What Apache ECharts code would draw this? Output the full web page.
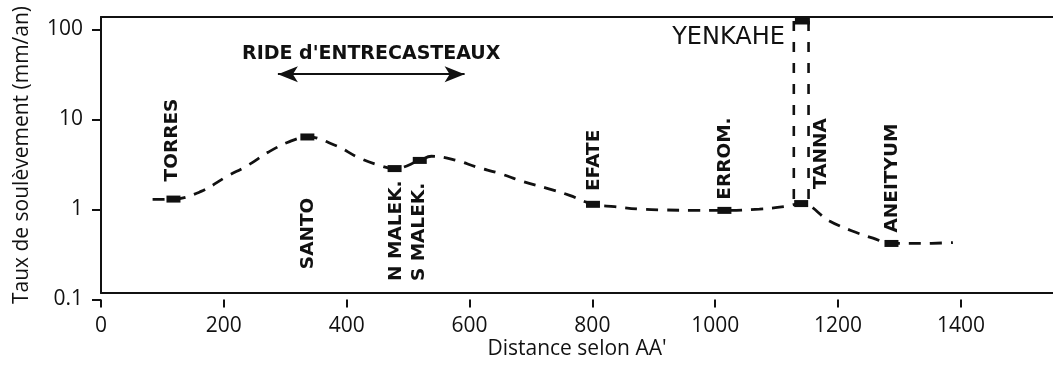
<!DOCTYPE html>
<html><head><meta charset="utf-8">
<script src="https://cdn.jsdelivr.net/npm/echarts@6/dist/echarts.min.js"></script>
<style>html,body{margin:0;padding:0;background:#fff}#c{width:1053px;height:365px}</style>
</head><body><div id="c"></div>
<script>
// ---- data ----
const curveDistance = [84,118,163,204,239,272,307,336,383,418,448,478,519,538,579,611,649,687,725,763,801,836,877,918,967,1015,1072,1113,1140,1186,1222,1257,1287,1336,1387];
const curveRate = [1.16,1.17,1.43,2.10,2.83,3.98,5.27,5.95,4.72,3.50,2.91,2.60,3.22,3.59,3.22,2.71,2.29,1.85,1.56,1.29,1.02,0.96,0.90,0.88,0.87,0.87,0.90,0.96,1.04,0.66,0.51,0.42,0.366,0.366,0.375];
const siteNames = ['TORRES','SANTO','N MALEK.','S MALEK.','EFATE','ERROM.','TANNA','ANEITYUM'];
const siteDistance = [118,336,478,519,801,1015,1140,1287];
const siteRate = [1.17,5.95,2.60,3.22,1.02,0.87,1.04,0.366];
const yenkaheName = 'YENKAHE';
const yenkaheDistance = 1142;
const yenkaheRate = 124;
const yenkaheBoxDistance = [1128,1152];
const ridgeName = "RIDE d'ENTRECASTEAUX";
const ridgeDistance = [288,592];
const ridgeRate = 30.8;
const xTickValues = [0,200,400,600,800,1000,1200,1400];
const yTickValues = [0.1,1,10,100];
const xName = "Distance selon AA'";
const yName = 'Taux de soulèvement (mm/an)';

// ---- label placement (pixel offsets from marker centre, alignment) ----
const labelPlacement = [
  [-1,-17.7,'left'],[1.3,60.7,'right'],[1.7,112.3,'left'],[-0.7,120.7,'left'],
  [1.7,-13.3,'left'],[1,-10.7,'left'],[20,-14.6,'left'],[1,-11,'left']
];

const INK = '#111111';
const SANS = "'Open Sans', sans-serif";
const BOLD = "'DejaVu Sans', sans-serif";
const MW = 14, MH = 7;

const chart = echarts.init(document.getElementById('c'), null, {renderer:'canvas'});

const curveData = curveDistance.map((d,i)=>[d,curveRate[i]]);
const tannaRate = siteRate[siteNames.indexOf('TANNA')];
const siteData = siteDistance.map((d,i)=>({
  value:[d,siteRate[i]], name:siteNames[i],
  label:{ position:[MW/2+labelPlacement[i][0], MH/2+labelPlacement[i][1]], align:labelPlacement[i][2] }
}));

const lineAx = {show:true,onZero:false,lineStyle:{color:INK,width:2}};

const option = {
  animation:false,
  backgroundColor:'#fff',
  grid:[
    {left:101,right:0,top:17,bottom:65.5},
    {left:101,right:92.1,top:29.5,bottom:65.5}
  ],
  xAxis:[
    {gridIndex:0,type:'value',min:0,max:1550,position:'bottom',axisLine:lineAx,axisTick:{show:false},axisLabel:{show:false},splitLine:{show:false},
     name:xName,nameLocation:'middle',nameGap:46,nameTextStyle:{fontFamily:SANS,fontSize:21,color:INK}},
    {gridIndex:0,type:'value',min:0,max:1550,position:'top',axisLine:lineAx,axisTick:{show:false},axisLabel:{show:false},splitLine:{show:false}},
    {gridIndex:1,type:'value',min:xTickValues[0],max:xTickValues[xTickValues.length-1],interval:xTickValues[1]-xTickValues[0],position:'bottom',axisLine:{show:false,onZero:false},
     axisTick:{show:true,length:8,lineStyle:{color:INK,width:2}},
     axisLabel:{margin:16,fontFamily:SANS,fontSize:21,color:INK,formatter:v=>String(v)},splitLine:{show:false}}
  ],
  yAxis:[
    {gridIndex:0,type:'log',logBase:10,min:0.1,max:137.7,axisLine:lineAx,axisTick:{show:false},axisLabel:{show:false},splitLine:{show:false},
     name:yName,nameLocation:'middle',nameRotate:90,nameGap:68,nameTextStyle:{fontFamily:SANS,fontSize:21,color:INK}},
    {gridIndex:1,type:'log',logBase:10,min:yTickValues[0],max:yTickValues[yTickValues.length-1],axisLine:{show:false,onZero:false},
     axisTick:{show:true,length:9,lineStyle:{color:INK,width:2}},
     axisLabel:{margin:18,fontFamily:SANS,fontSize:21,color:INK,formatter:v=>String(v)},splitLine:{show:false}}
  ],
  series:[
    {type:'line',xAxisIndex:0,yAxisIndex:0,data:curveData,smooth:0.4,symbol:'none',
     lineStyle:{color:INK,width:2.8,type:[12,9]},z:2},
    ...yenkaheBoxDistance.map(d=>({type:'line',xAxisIndex:0,yAxisIndex:0,symbol:'none',
      data:[[d,yenkaheRate],[d,tannaRate]],lineStyle:{color:INK,width:2.6,type:[10,11]},z:2})),
    {type:'scatter',xAxisIndex:0,yAxisIndex:0,data:siteData,symbol:'rect',symbolSize:[MW,MH],
     itemStyle:{color:INK,opacity:1},z:4,
     label:{show:true,formatter:'{b}',rotate:90,verticalAlign:'middle',fontFamily:BOLD,fontWeight:'bold',fontSize:18.5,color:INK},
     markLine:{silent:true,symbol:['arrow','arrow'],symbolSize:[12,20],
       lineStyle:{color:INK,width:2,type:'solid',opacity:1},
       label:{show:true,position:'middle',distance:11,formatter:ridgeName,fontFamily:BOLD,fontWeight:'bold',fontSize:19,color:INK},
       data:[[{coord:[ridgeDistance[0],ridgeRate]},{coord:[ridgeDistance[1],ridgeRate]}]]}},
    {type:'scatter',xAxisIndex:0,yAxisIndex:0,data:[{value:[yenkaheDistance,yenkaheRate],name:yenkaheName}],
     symbol:'rect',symbolSize:[15,7],itemStyle:{color:INK,opacity:1},z:4,
     label:{show:true,formatter:'{b}',position:'left',distance:10,offset:[0,17],fontFamily:BOLD,fontSize:24,color:INK}}
  ]
};
chart.setOption(option);
</script></body></html>
